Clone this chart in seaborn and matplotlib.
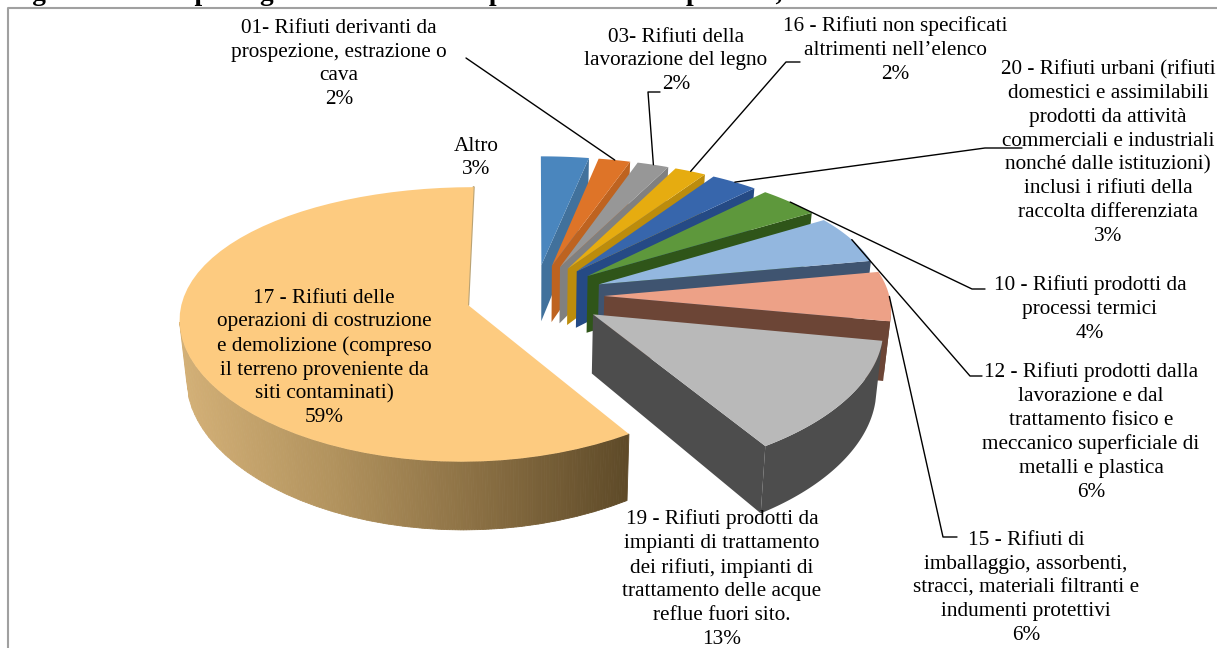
#!/usr/bin/env python
"""
Exploded 3D pie of waste categories, projected by hand onto a flat axes
"""

import numpy as np
import matplotlib
matplotlib.use('Agg')
import matplotlib.pyplot as plt
import seaborn as sns
from matplotlib.patches import Polygon

sns.set_theme(style="white")
plt.rcParams['font.family'] = ['Liberation Serif', 'DejaVu Serif']

# Data, clockwise from 12 o'clock
categories = ['Altro', '01', '03', '16', '20', '10', '12', '15', '19', '17']
values = [3, 2, 2, 2, 3, 4, 6, 6, 13, 59]
top_colors = ['#4A86BE', '#DE7428', '#979797', '#E6AC10', '#3766AC', '#5E983C',
              '#93B7DF', '#EDA187', '#B9B9B9', '#FDCB80']
side_colors = ['#41719C', '#BE6320', '#808080', '#BC8C0C', '#254A85', '#2F5519',
               '#3F5470', '#6C4536', '#4D4D4D', '#7A6035']
labels = [
    'Altro\n3%',
    '01- Rifiuti derivanti da\nprospezione, estrazione o\ncava\n2%',
    '03- Rifiuti della\nlavorazione del legno\n2%',
    '16 - Rifiuti non specificati\naltrimenti nell\u2019elenco\n2%',
    '20 - Rifiuti urbani (rifiuti\ndomestici e assimilabili\nprodotti da attività\ncommerciali e industriali\nnonché dalle istituzioni)\ninclusi i rifiuti della\nraccolta differenziata\n3%',
    '10 - Rifiuti prodotti da\nprocessi termici\n4%',
    '12 - Rifiuti prodotti dalla\nlavorazione e dal\ntrattamento fisico e\nmeccanico superficiale di\nmetalli e plastica\n6%',
    '15 - Rifiuti di\nimballaggio, assorbenti,\nstracci, materiali filtranti e\nindumenti protettivi\n6%',
    '19 - Rifiuti prodotti da\nimpianti di trattamento\ndei rifiuti, impianti di\ntrattamento delle acque\nreflue fuori sito.\n13%',
    '17 - Rifiuti delle\noperazioni di costruzione\ne demolizione (compreso\nil terreno proveniente da\nsiti contaminati)\n59%',
]
label_pos = [(476, 158), (339, 64), (676, 61), (895, 50), (1108, 153), (1090, 309),
             (1091, 432), (1026, 588), (722, 579), (324, 358)]
# leader: text side elbow, None = no leader
leader_elbow = [None, [(466, 58)], [(648, 92), (660, 92)], [(786, 62), (800, 62)],
                [(985, 148), (1022, 148)], [(972, 289), (985, 289)],
                [(970, 376), (982, 376)], [(943, 537), (957, 537)], None, None]
title = 'Figura 12.1 \u2013 Tipo di gestione dei rifiuti speciali nel totale periodo, anno'

# Projection settings (in pixels of the 1217x648 picture)
CX, CY = 535, 296
RX, RY = 285, 132
PERSP_X, PERSP_Y = 0.09, 0.14
EXPLODE = 0.243
HEIGHT = 58
BOTTOM = 0.98  # the lower face sits further away, so it is a bit narrower


def project(x, y):
    return CX + RX * x / (1 + PERSP_X * y), CY - RY * y / (1 + PERSP_Y * y), 1 + PERSP_Y * y


def drop(x, y, w):
    """Point of the lower face below a projected point of the upper face"""
    return CX + (x - CX) * BOTTOM, y + HEIGHT / w


def wedge_points(start, end, n=60):
    """Apex and rim points of one exploded slice, angles clockwise from top"""
    mid = (start + end) / 2
    ox, oy = EXPLODE * np.sin(mid), EXPLODE * np.cos(mid)
    th = np.linspace(start, end, n)
    ax_, ay_, aw = project(ox, oy)
    rx_, ry_, rw = project(ox + np.sin(th), oy + np.cos(th))
    return (ax_, ay_, aw), (rx_, ry_, rw), th


fig = plt.figure(figsize=(12.17, 6.48), dpi=100)
ax = fig.add_axes([0, 0, 1, 1])
ax.set_xlim(0, 1217)
ax.set_ylim(648, 0)
ax.axis('off')

# cropped title, only the descenders stay in the picture
ax.text(8, 0, title, fontsize=19.7, fontweight='bold', ha='left', va='baseline', color='black')
# frame runs off the picture on the right and at the bottom
ax.plot([1217, 8, 8], [8, 8, 648], color='#A0A0A0', lw=1.5, zorder=1)

fractions = np.array(values) / sum(values) * 2 * np.pi
edges = np.concatenate([[0], np.cumsum(fractions)])
wall_gradient = sns.blend_palette(['#D3B077', '#B2935E', '#8A6F43', '#5E4A28'], 160)
rims = []

z = 2
for i, cat in enumerate(categories):
    (ax0, ay0, aw), (rx0, ry0, rw), th = wedge_points(edges[i], edges[i + 1])
    rims.append((rx0, ry0, th))

    # radial wall on the closing edge, only a thin line for the big slice
    if cat != '17':
        ax.add_patch(Polygon([(ax0, ay0), (rx0[-1], ry0[-1]),
                              drop(rx0[-1], ry0[-1], rw[-1]), drop(ax0, ay0, aw)],
                             closed=True, fc=side_colors[i], ec='none', zorder=z))
        z += 1
    else:
        ax.plot([ax0, rx0[-1]], [ay0, ry0[-1]], color='#B9A274', lw=1.6, zorder=z)
        z += 1

    # outer wall where the rim faces the viewer
    front = np.cos(th) < 0
    if front.any():
        xs, ys, ws = rx0[front], ry0[front], rw[front]
        if cat == '17':
            # gradient on the big slice, one strip per step along the rim
            xf = np.linspace(xs.min(), xs.max(), 160)
            order = np.argsort(xs)
            yf = np.interp(xf, xs[order], ys[order])
            wf = np.interp(xf, xs[order], ws[order])
            for k in range(len(xf) - 1):
                ax.add_patch(Polygon([(xf[k], yf[k]), (xf[k + 1], yf[k + 1]),
                                      drop(xf[k + 1], yf[k + 1], wf[k + 1]),
                                      drop(xf[k], yf[k], wf[k])],
                                     closed=True, fc=wall_gradient[k], ec=wall_gradient[k],
                                     lw=0.6, zorder=z))
        else:
            bx, by = drop(xs, ys, ws)
            pts = list(zip(xs, ys)) + list(zip(bx[::-1], by[::-1]))
            ax.add_patch(Polygon(pts, closed=True, fc=side_colors[i], ec='none', zorder=z))
        z += 1

    # top face
    pts = [(ax0, ay0)] + list(zip(rx0, ry0))
    ax.add_patch(Polygon(pts, closed=True, fc=top_colors[i], ec='none', zorder=z))
    z += 1

# leaders go from the middle of the rim of the slice to the text elbow
for i, elbow in enumerate(leader_elbow):
    if elbow is None:
        continue
    rx0, ry0, th = rims[i]
    k = len(th) // 2
    xs = [rx0[k]] + [p[0] for p in elbow]
    ys = [ry0[k]] + [p[1] for p in elbow]
    ax.plot(xs, ys, color='black', lw=1.0, zorder=50)

for lab, (x, y) in zip(labels, label_pos):
    ax.text(x, y, lab, ha='center', va='center', fontsize=15.3, color='black',
            linespacing=1.335, zorder=60)

plt.savefig('out.png', dpi=100)
